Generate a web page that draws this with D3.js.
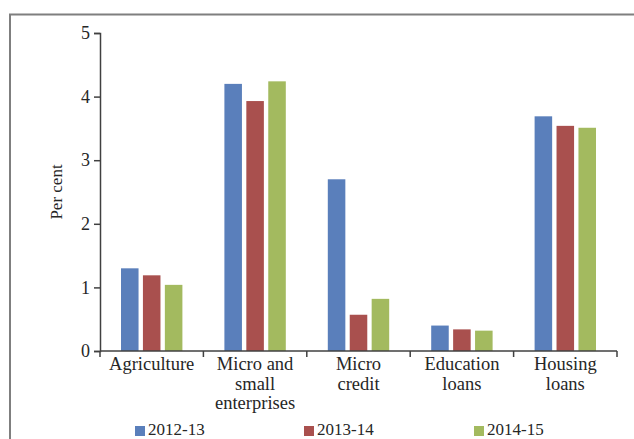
<!DOCTYPE html>
<html>
<head>
<meta charset="utf-8">
<script src="https://cdn.jsdelivr.net/npm/d3@7"></script>
<style>
  html, body { margin: 0; padding: 0; background: #fff; }
  svg { display: block; }
  text { font-family: "Liberation Serif", "Times New Roman", serif; fill: #262626; }
</style>
</head>
<body>
<svg id="chart" width="634" height="439"></svg>
<script>
// Sector shares, per cent
const categories = [
  ["Agriculture"],
  ["Micro and", "small", "enterprises"],
  ["Micro", "credit"],
  ["Education", "loans"],
  ["Housing", "loans"]
];
const seriesNames = ["2012-13", "2013-14", "2014-15"];
const values2012 = [1.30, 4.20, 2.70, 0.40, 3.69];
const values2013 = [1.19, 3.93, 0.57, 0.34, 3.54];
const values2014 = [1.04, 4.24, 0.82, 0.32, 3.51];
const yTicks = [0, 1, 2, 3, 4, 5];
const colors = ["#5a7fbb", "#a9504e", "#a3ba5f"];

const seriesValues = [values2012, values2013, values2014];
const catKeys = categories.map(c => c.join(" "));

const svg = d3.select("#chart");

// Outer frame (left and top edges)
svg.append("path")
  .attr("d", "M10,439 V14.5 H634")
  .attr("fill", "none")
  .attr("stroke", "#7f7f7f")
  .attr("stroke-width", 2);

const plotLeft = 100, plotRight = 617, plotTop = 33, plotBottom = 351;

const y = d3.scaleLinear().domain([0, 5]).range([plotBottom, plotTop]);
const x0 = d3.scaleBand().domain(catKeys).range([plotLeft, plotRight]).padding(0);
const x1 = d3.scaleBand().domain(seriesNames)
  .range([21, x0.bandwidth() - 21]).paddingInner(0.2).paddingOuter(0);

// Bars
const groups = svg.append("g").selectAll("g")
  .data(catKeys)
  .join("g")
  .attr("transform", d => `translate(${x0(d)},0)`);

groups.selectAll("rect")
  .data((d, i) => seriesNames.map((s, j) => ({ s, j, v: seriesValues[j][i] })))
  .join("rect")
  .attr("x", d => x1(d.s))
  .attr("width", x1.bandwidth())
  .attr("y", d => y(d.v))
  .attr("height", d => y(0) - y(d.v))
  .attr("fill", d => colors[d.j]);

// Y axis
const yAxis = d3.axisLeft(y).tickValues(yTicks).tickSize(6).tickPadding(4).tickFormat(d3.format("d"));
const gy = svg.append("g").attr("transform", `translate(${plotLeft},0)`).call(yAxis);
gy.select(".domain").attr("stroke", "#404040").attr("stroke-width", 1.5);
gy.selectAll(".tick line").attr("stroke", "#404040").attr("stroke-width", 1.5);
gy.selectAll(".tick text").attr("font-size", 18).attr("font-family", "Liberation Serif, serif").attr("fill", "#262626");

// X axis line with boundary ticks
const boundaries = catKeys.map(k => x0(k)).concat([plotRight]);
const gx = svg.append("g");
gx.append("line")
  .attr("x1", plotLeft).attr("x2", plotRight)
  .attr("y1", plotBottom).attr("y2", plotBottom)
  .attr("stroke", "#404040").attr("stroke-width", 1.5);
gx.selectAll("line.tick")
  .data(boundaries)
  .join("line")
  .attr("class", "tick")
  .attr("x1", d => d).attr("x2", d => d)
  .attr("y1", plotBottom).attr("y2", plotBottom + 6)
  .attr("stroke", "#404040").attr("stroke-width", 1.5);

// Category labels
svg.append("g").selectAll("text")
  .data(categories)
  .join("text")
  .attr("x", (d, i) => x0(catKeys[i]) + x0.bandwidth() / 2)
  .attr("y", 370)
  .attr("text-anchor", "middle")
  .attr("font-size", 18.5)
  .selectAll("tspan")
  .data(d => d)
  .join("tspan")
  .attr("x", function () { return d3.select(this.parentNode).attr("x"); })
  .attr("dy", (d, i) => i === 0 ? 0 : 19.5)
  .text(d => d);

// Y axis title
svg.append("text")
  .attr("transform", `translate(62,${(plotTop + plotBottom) / 2}) rotate(-90)`)
  .attr("text-anchor", "middle")
  .attr("font-size", 17)
  .text("Per cent");

// Legend
const legendX = [135, 304, 474];
const legend = svg.append("g").selectAll("g")
  .data(seriesNames)
  .join("g")
  .attr("transform", (d, i) => `translate(${legendX[i]},0)`);
legend.append("rect")
  .attr("x", 0).attr("y", 426)
  .attr("width", 10).attr("height", 10)
  .attr("fill", (d, i) => colors[i]);
legend.append("text")
  .attr("x", 13).attr("y", 435)
  .attr("font-size", 17)
  .text(d => d);
</script>
</body>
</html>
